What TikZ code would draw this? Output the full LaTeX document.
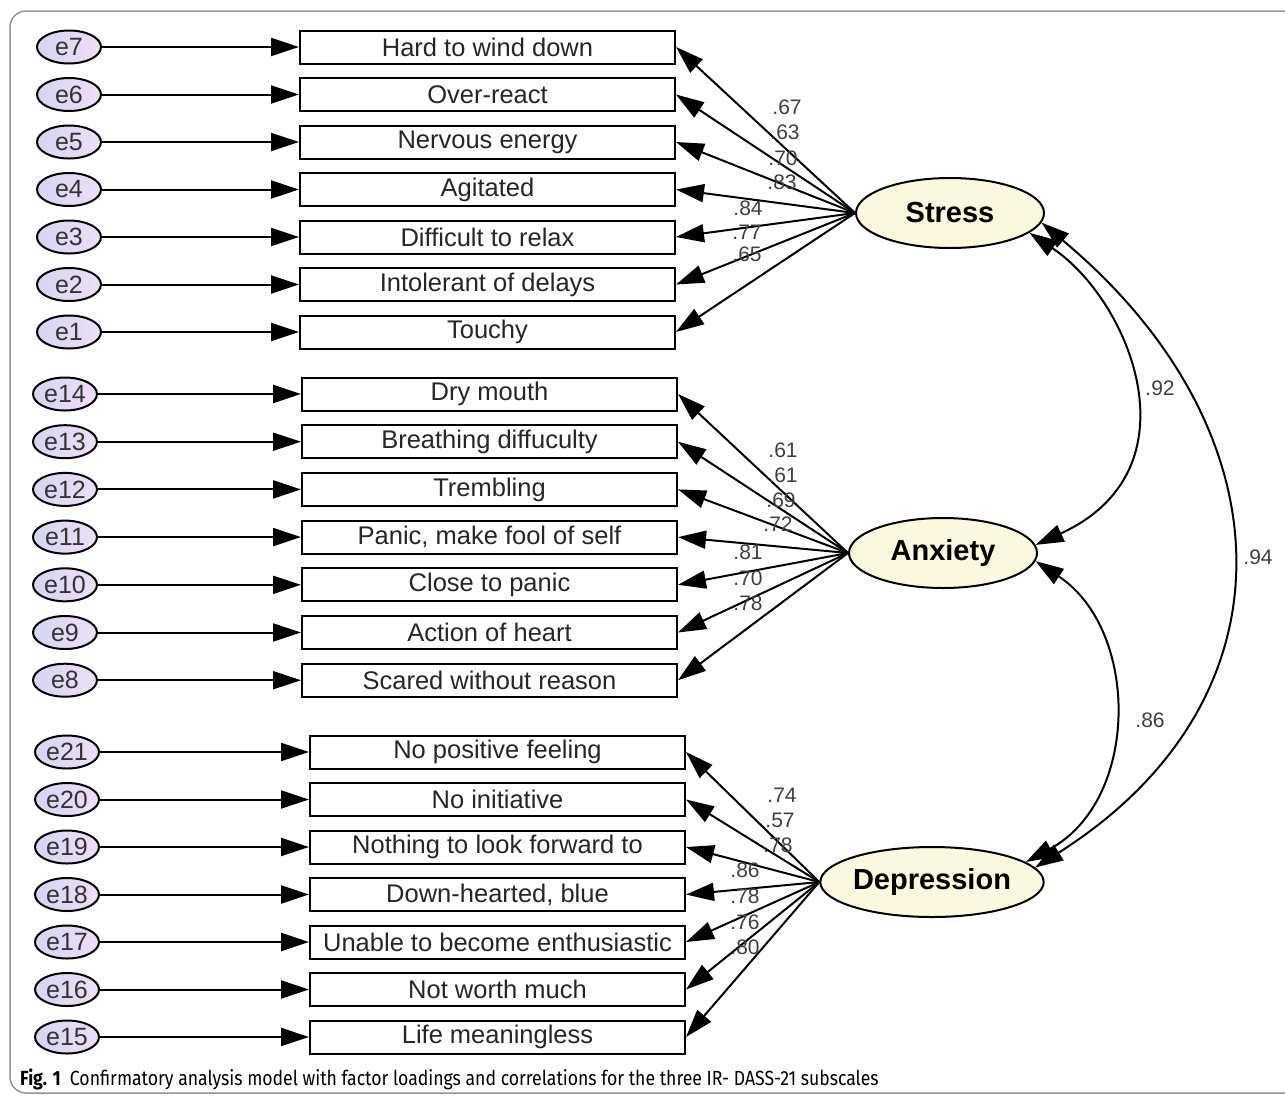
\documentclass[tikz,border=0pt]{standalone}
\usepackage{fontspec}
\setmainfont{Liberation Sans}
\newfontfamily\capfont[FakeStretch=0.86]{Fira Sans}
\usetikzlibrary{arrows.meta,positioning,shapes.geometric}

\definecolor{errleft}{RGB}{212,214,240}
\definecolor{errright}{RGB}{240,222,246}
\definecolor{latfill}{RGB}{250,248,222}
\definecolor{framegray}{RGB}{150,150,150}

\begin{document}
\begin{tikzpicture}
	% Styles
	[
	x=1pt, y=-1pt,
	err/.style={ellipse, draw, line width=2pt, minimum width=64pt, minimum height=33pt, inner sep=0pt,
		left color=errleft, right color=errright, text=black!80, font=\fontsize{25}{25}\selectfont},
	item/.style={rectangle, draw, line width=2pt, minimum width=375pt, minimum height=33pt, inner sep=0pt,
		text=black!85, font=\fontsize{25.5}{25.5}\selectfont},
	latent/.style={ellipse, draw, line width=2pt, minimum width=188pt, minimum height=70pt, inner sep=0pt,
		fill=latfill, font=\fontsize{29}{29}\selectfont\bfseries},
	errpath/.style={line width=2pt, -{Triangle[length=28pt,width=18pt]}},
	load/.style={line width=2pt, -{Triangle[length=28pt,width=18pt]}},
	corr/.style={line width=2pt, {Triangle[length=28pt,width=18pt]}-{Triangle[length=28pt,width=18pt]}},
	coef/.style={inner sep=0pt, text=black!75, font=\fontsize{21}{21}\selectfont},
	]

	\useasboundingbox (0,0) rectangle (1285,1096);
	\clip (0,0) rectangle (1285,1096);

	% Frame
	\draw[framegray, line width=1.5pt, rounded corners=16pt] (1330,11) -- (10,11) -- (10,1093) -- (1330,1093);

	% Latent factors
	\node at (950,213)	(stress)	[latent] {Stress};
	\node at (943,553)	(anxiety)	[latent] {Anxiety};
	\node at (932,882)	(depression)	[latent] {Depression};

	% Stress items
	\foreach \txt [count=\k] in {Hard to wind down, Over-react, Nervous energy, Agitated,
		Difficult to relax, Intolerant of delays, Touchy} {
		\pgfmathsetmacro\yy{47+47.5*(\k-1)}
		\pgfmathtruncatemacro\en{8-\k}
		\node at (69,\yy)	(e\en)	[err] {e\en};
		\node at (487.5,\yy)	(v\en)	[item] {\txt};
		\draw[errpath] (e\en) -- (v\en);
		\draw[load] (stress.west) -- (v\en.east);
	}

	% Anxiety items
	\foreach \txt [count=\k] in {Dry mouth, Breathing diffuculty, Trembling, {Panic, make fool of self},
		Close to panic, Action of heart, Scared without reason} {
		\pgfmathsetmacro\yy{394+47.7*(\k-1)}
		\pgfmathtruncatemacro\en{15-\k}
		\node at (65,\yy)	(e\en)	[err] {e\en};
		\node at (489.5,\yy)	(v\en)	[item] {\txt};
		\draw[errpath] (e\en) -- (v\en);
		\draw[load] (anxiety.west) -- (v\en.east);
	}

	% Depression items
	\foreach \txt [count=\k] in {No positive feeling, No initiative, Nothing to look forward to,
		{Down-hearted, blue}, Unable to become enthusiastic, Not worth much, Life meaningless} {
		\pgfmathsetmacro\yy{752+47.5*(\k-1)}
		\pgfmathtruncatemacro\en{22-\k}
		\node at (67,\yy)	(e\en)	[err] {e\en};
		\node at (497.5,\yy)	(v\en)	[item] {\txt};
		\draw[errpath] (e\en) -- (v\en);
		\draw[load] (depression.west) -- (v\en.east);
	}

	% Loadings
	\foreach \val/\xx/\yy [count=\k] in {.67/787/107, .63/785/132, .70/783/158, .83/782/182,
		.84/748/208, .77/747/232, .65/747/254,
		.61/783/450, .61/783/475, .69/781/500, .72/778/524,
		.81/748/552, .70/748/578, .78/748/603,
		.74/782/795, .57/780/820, .78/778/845, .86/745/870,
		.78/745/896, .76/745/922, .80/745/947}
		\node at (\xx,\yy)	(l\k)	[coef] {\val};

	% Correlations
	\draw[corr] (stress.-14) .. controls (1130,300) and (1200,470) .. (anxiety.5);
	\draw[corr] (stress.-6) .. controls (1290,430) and (1300,700) .. (depression.8);
	\draw[corr] (anxiety.-5) .. controls (1140,630) and (1140,800) .. (depression.12);
	\node at (1160,388)	(r1)	[coef] {.92};
	\node at (1258,557)	(r2)	[coef] {.94};
	\node at (1150,720)	(r3)	[coef] {.86};

	% Caption
	\node at (20,1085)	(caption)	[anchor=base west, inner sep=0pt, font=\capfont\fontsize{20.5}{20.5}\selectfont]
		{\textbf{Fig. 1}\hspace{9pt}Confirmatory analysis model with factor loadings and correlations for the three IR- DASS-21 subscales};

\end{tikzpicture}
\end{document}
